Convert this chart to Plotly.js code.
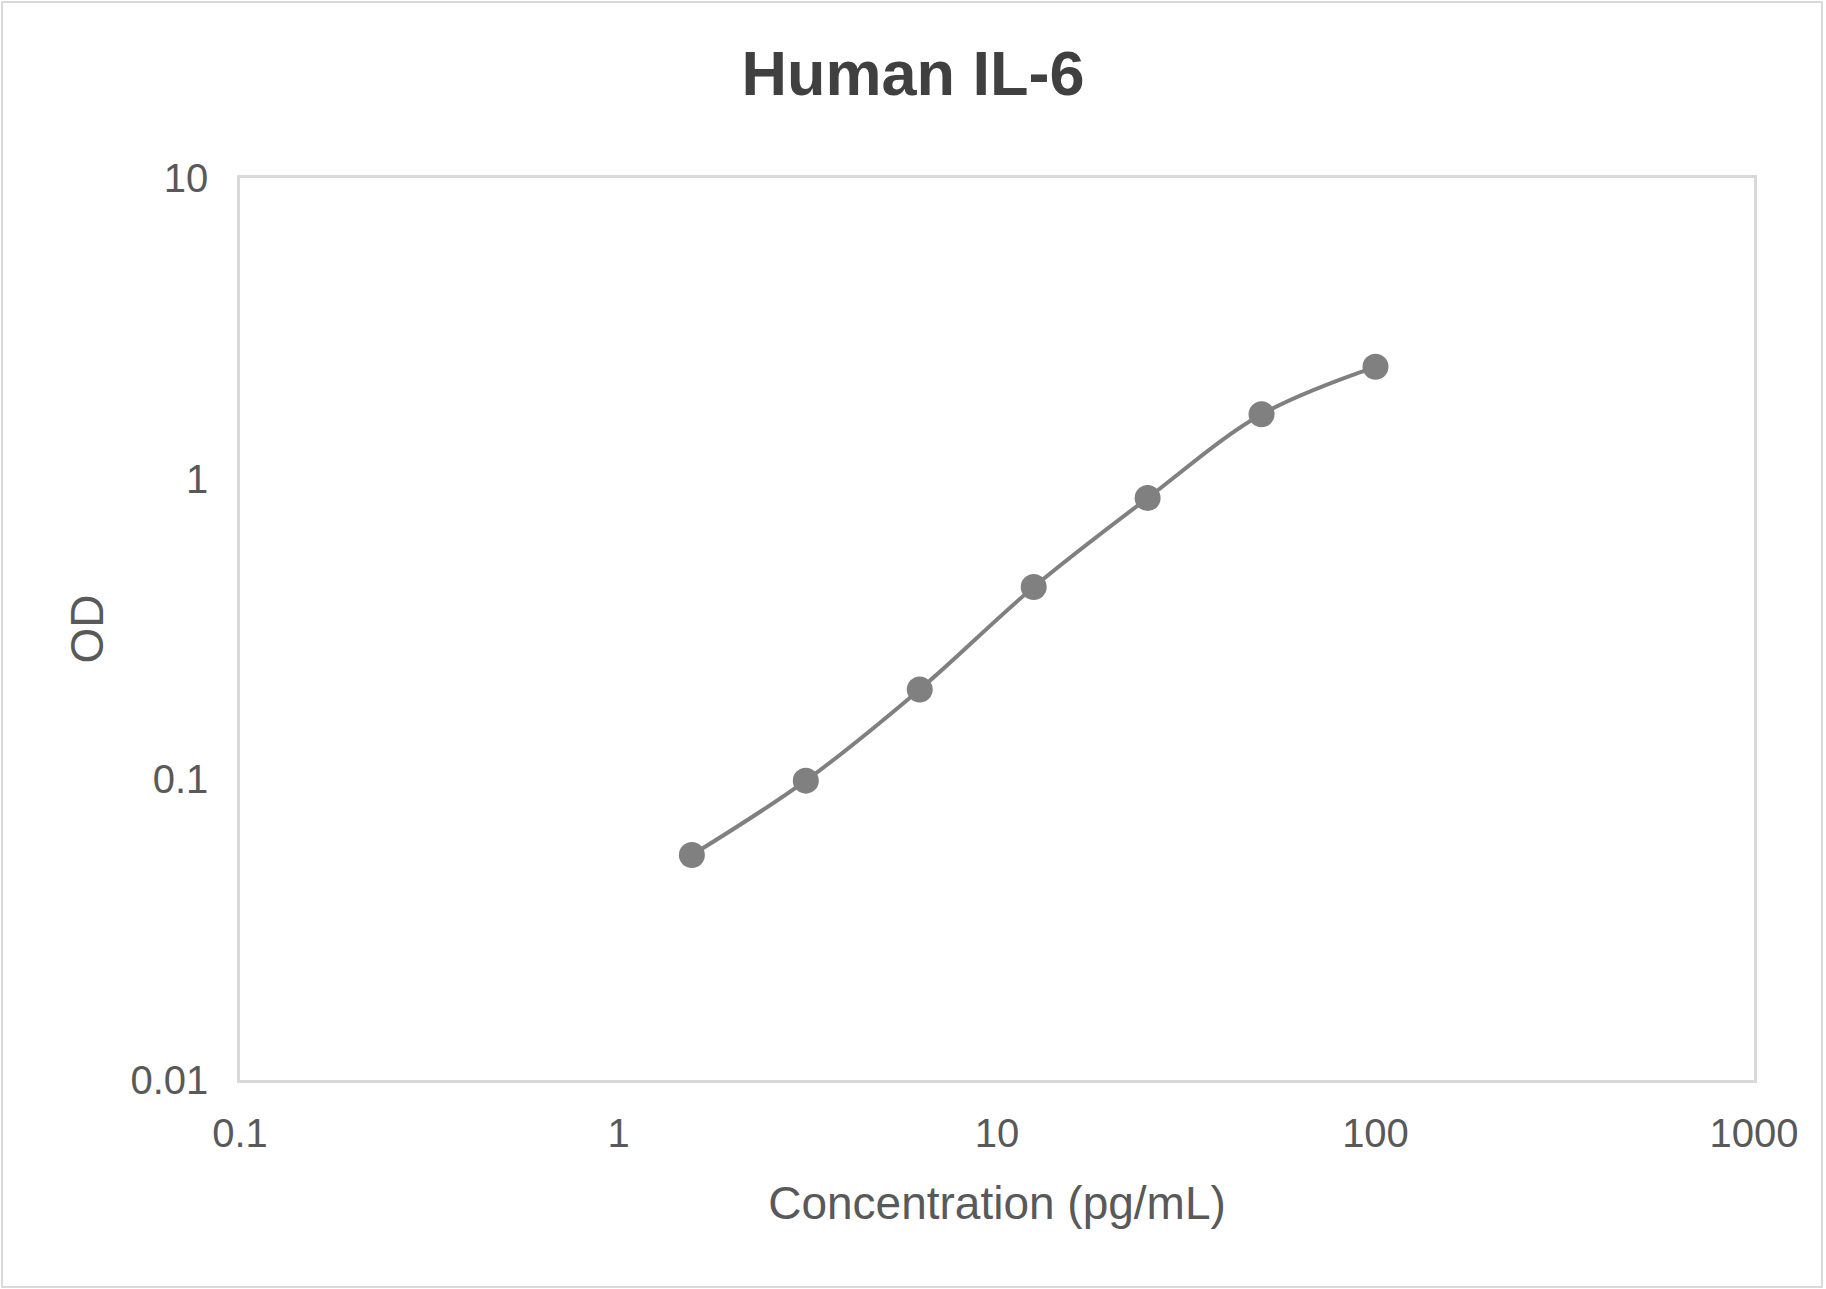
<!DOCTYPE html>
<html>
<head>
<meta charset="utf-8">
<script src="https://cdn.plot.ly/plotly-3.0.1.min.js"></script>
<style>
  html, body { margin: 0; padding: 0; background: #ffffff; }
  #wrap { position: relative; width: 1826px; height: 1289px; }
  #chart { position: absolute; left: 0; top: 0; width: 1826px; height: 1289px; }
  #frame { position: absolute; left: 1px; top: 1px; width: 1822px; height: 1287px;
           border: 2px solid #d9d9d9; box-sizing: border-box; pointer-events: none; }
</style>
</head>
<body>
<div id="wrap">
  <div id="chart"></div>
  <div id="frame"></div>
</div>
<script>
const chartTitle = "Human IL-6";
const xTitle = "Concentration (pg/mL)";
const yTitle = "OD";

const concentration = [1.5625, 3.125, 6.25, 12.5, 25, 50, 100];
const od = [0.056, 0.099, 0.199, 0.436, 0.862, 1.637, 2.356];

const xTickVals = [0.1, 1, 10, 100, 1000];
const xTickText = ["0.1", "1", "10", "100", "1000"];
const yTickVals = [0.01, 0.1, 1, 10];
const yTickText = ["0.01", "0.1", "1", "10"];

const gray = "#808080";
const textColor = "#595959";
const fontFamily = "'Liberation Sans', Arial, sans-serif";

const trace = {
  x: concentration,
  y: od,
  type: "scatter",
  mode: "lines+markers",
  line: { color: gray, width: 4, shape: "spline", smoothing: 1 },
  marker: { color: gray, size: 26 },
  hoverinfo: "x+y",
  showlegend: false
};

const layout = {
  width: 1826,
  height: 1289,
  paper_bgcolor: "#ffffff",
  plot_bgcolor: "#ffffff",
  margin: { l: 240, r: 72, t: 178, b: 209, pad: 0 },
  font: { family: fontFamily, color: textColor },
  title: {
    text: "<b>" + chartTitle + "</b>",
    font: { family: fontFamily, size: 63, color: "#404040" },
    xref: "container", x: 0.5, xanchor: "center",
    yref: "container", y: 1 - 73 / 1289, yanchor: "middle"
  },
  xaxis: {
    type: "log",
    range: [-1, 3],
    tickmode: "array",
    tickvals: xTickVals,
    ticktext: xTickText,
    tickfont: { size: 40, color: textColor },
    ticks: "",
    ticklabelstandoff: 16,
    showgrid: false,
    zeroline: false,
    showline: true,
    mirror: true,
    linecolor: "#d9d9d9",
    linewidth: 2.5,
    title: { text: xTitle, font: { size: 46, color: textColor }, standoff: 34 },
    automargin: false
  },
  yaxis: {
    type: "log",
    range: [-2, 1],
    tickmode: "array",
    tickvals: yTickVals,
    ticktext: yTickText,
    tickfont: { size: 40, color: textColor },
    ticks: "",
    ticklabelstandoff: 21,
    showgrid: false,
    zeroline: false,
    showline: true,
    mirror: true,
    linecolor: "#d9d9d9",
    linewidth: 2.5,
    title: { text: yTitle, font: { size: 46, color: textColor }, standoff: 13 },
    automargin: false
  }
};

Plotly.newPlot("chart", [trace], layout, { displayModeBar: false, staticPlot: false });
</script>
</body>
</html>
